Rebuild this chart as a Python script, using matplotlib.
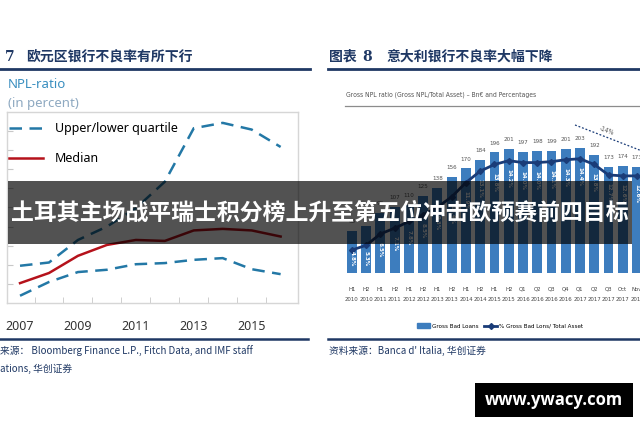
import matplotlib
matplotlib.use("Agg")
import matplotlib.pyplot as plt
from matplotlib.lines import Line2D
from matplotlib.patches import Rectangle, Patch
from matplotlib.font_manager import FontProperties

plt.rcParams['font.family'] = ['Noto Sans', 'Noto Sans CJK SC', 'DejaVu Sans']

# ---------------- data: left chart (Euro area NPL ratio, %) ----------------
years = [2007, 2008, 2009, 2010, 2011, 2012, 2013, 2014, 2015, 2016]
upper_q = [1.95, 2.12, 3.3, 4.0, 4.96, 6.35, 9.15, 9.43, 9.08, 8.17]
median = [1.04, 1.57, 2.47, 3.04, 3.30, 3.25, 3.80, 3.88, 3.80, 3.48]
lower_q = [0.38, 1.10, 1.62, 1.74, 2.03, 2.09, 2.26, 2.35, 1.77, 1.51]
year_labels = ['2007', '2009', '2011', '2013', '2015']

# ---------------- data: right chart (Italy gross NPL) ----------------
periods = ['H1', 'H2', 'H1', 'H2', 'H1', 'H2', 'H1', 'H2', 'H1', 'H2', 'H1', 'H2',
           'Q1', 'Q2', 'Q3', 'Q4', 'Q1', 'Q2', 'Q3', 'Oct', 'Nov']
period_years = ['2010', '2010', '2011', '2011', '2012', '2012', '2013', '2013', '2014',
                '2014', '2015', '2015', '2016', '2016', '2016', '2016', '2017', '2017',
                '2017', '2017', '2017']
bad_loans = [68, 77, 98, 107, 110, 125, 138, 156, 170, 184, 196, 201, 197, 198, 199,
             201, 203, 192, 173, 174, 173]
npl_pct = [4.8, 5.3, 6.5, 7.1, 7.8, 8.5, 9.3, 10.4, 11.9, 13.1, 13.8, 14.2, 14.0, 14.0,
           14.1, 14.3, 14.4, 13.8, 12.7, 12.6, 12.6]
trend_label = '-14%'

W, H = 640, 426
fig = plt.figure(figsize=(6.4, 4.26), dpi=100)
fig.patch.set_facecolor('white')


def fx(x):
    return x / W


def fy(y):
    return 1 - y / H


def add_axes_px(x0, y0, x1, y1):
    return fig.add_axes([fx(x0), fy(y1), (x1 - x0) / W, (y1 - y0) / H])


def hline(x0, x1, y, color, lw):
    fig.add_artist(Line2D([fx(x0), fx(x1)], [fy(y), fy(y)], transform=fig.transFigure,
                          color=color, lw=lw))


def narrow(size, weight='normal'):
    return FontProperties(family='DejaVu Sans', stretch='condensed', size=size, weight=weight)


NAVY = '#1f3864'
TEAL = '#2378a6'
RED = '#b5121b'
BAR = '#3d7dbe'
LINE = '#1a3c78'

# ---------------- headers ----------------
fig.text(fx(5), fy(57), '7', fontsize=10, fontweight='bold', color=NAVY,
         family=['DejaVu Serif'], va='center')
fig.text(fx(26), fy(57), '欧元区银行不良率有所下行', fontsize=10, fontweight='bold',
         color=NAVY, family=['Noto Sans CJK SC'], va='center')
fig.text(fx(329), fy(57), '图表', fontsize=10, fontweight='bold', color=NAVY,
         family=['Noto Sans CJK SC'], va='center')
fig.text(fx(362), fy(57), '8', fontsize=10, fontweight='bold', color=NAVY,
         family=['DejaVu Serif'], va='center')
fig.text(fx(386), fy(57), '意大利银行不良率大幅下降', fontsize=10, fontweight='bold',
         color=NAVY, family=['Noto Sans CJK SC'], va='center')
hline(0, 310, 69, NAVY, 2.0)
hline(328, 640, 69, NAVY, 2.0)
hline(0, 308, 339, NAVY, 1.8)
hline(328, 640, 339, NAVY, 1.8)

# ---------------- left chart ----------------
fig.text(fx(8), fy(85), 'NPL-ratio', fontsize=9.5, fontweight='bold', color='#3a8fc0',
         va='center')
fig.text(fx(8), fy(103), '(in percent)', fontsize=9.5, color='#8ea9c1', va='center')

axL = add_axes_px(7, 112, 298, 303)
axL.plot(years, upper_q, color=TEAL, lw=1.8, linestyle=(0, (5, 3)),
         label='Upper/lower quartile')
axL.plot(years, lower_q, color=TEAL, lw=1.8, linestyle=(0, (5, 3)))
axL.plot(years, median, color=RED, lw=1.8, label='Median')
axL.set_xlim(2006.55, 2016.6)
axL.set_ylim(0, 10)
axL.set_yticks(range(1, 10))
axL.set_yticklabels([])
axL.set_xticks([int(y) for y in year_labels])
axL.set_xticklabels(year_labels, fontsize=9, color='#333333')
axL.set_xticks([y + 0.5 for y in years[:-1]], minor=True)
axL.tick_params(axis='x', which='major', length=0, pad=12)
axL.tick_params(axis='x', which='minor', length=4, direction='in', color='#c8c8c8')
axL.tick_params(axis='y', length=4, direction='in', color='#c8c8c8')
for s in axL.spines.values():
    s.set_color('#d6d6d6')
    s.set_linewidth(1)
axL.legend(loc='upper left', bbox_to_anchor=(fx(4), fy(117)), bbox_transform=fig.transFigure,
           frameon=False, fontsize=9, handlelength=2.7, handletextpad=1.0,
           labelspacing=1.35, borderaxespad=0)

# ---------------- right chart ----------------
fig.text(fx(346), fy(95), 'Gross NPL ratio (Gross NPL/Total Asset) \u2013 Bn\u20ac and Percentages',
         color='#555555', va='center', fontproperties=narrow(4.9))
hline(345, 640, 106, '#8c8c8c', 0.9)

axR = add_axes_px(340, 120, 640, 273)
x = list(range(len(bad_loans)))
axR.bar(x, bad_loans, width=0.7, color=BAR, zorder=2)
axR.set_xlim(-0.84, 20.21)
axR.set_ylim(0, 248.8)
for s in axR.spines.values():
    s.set_visible(False)
axR.set_yticks([])
axR.set_xticks(x)
axR.set_xticklabels([f'{p}\n{y}' for p, y in zip(periods, period_years)],
                    color='#444444', linespacing=2.4, fontproperties=narrow(4.3))
axR.tick_params(axis='x', length=0, pad=10)
for xi, v in zip(x, bad_loans):
    axR.annotate(str(v), (xi, v), xytext=(0, 5), textcoords='offset points', ha='center',
                 va='bottom', color='#555555', fontproperties=narrow(4.5),
                 annotation_clip=False)

axR2 = axR.twinx()
axR2.set_ylim(2.38, 18.48)
axR2.set_yticks([])
for s in axR2.spines.values():
    s.set_visible(False)
axR2.plot(x, npl_pct, color=LINE, lw=2.0, marker='D', markersize=3.0, zorder=3)
for xi, v in zip(x, npl_pct):
    axR2.text(xi, max(v - 0.85, 4.7), f'{v:.1f}%', rotation=270, ha='center', va='top',
              color='white', fontproperties=narrow(4.4, 'bold'), clip_on=False)
# trend annotation (Q1 2017 peak to latest)
axR.plot([15.65, 20.4], [240.7, 198], color=LINE, lw=0.9, linestyle=(0, (1.5, 1.5)),
         clip_on=False)
axR.text(17.9, 231, trend_label, color='#555555', rotation=-20,
         ha='center', va='center', fontproperties=narrow(4.8))

handles = [Patch(color=BAR), Line2D([], [], color=LINE, lw=2, marker='D', markersize=3)]
axR.legend(handles, ['Gross Bad Loans', '% Gross Bad Lons/ Total Asset'], ncol=2,
           loc='center', bbox_to_anchor=(fx(500), fy(326)), bbox_transform=fig.transFigure,
           frameon=False, handlelength=2.0, handletextpad=0.3, handleheight=0.9,
           columnspacing=1.0, prop=narrow(4.5))

# ---------------- sources ----------------
fig.text(fx(0), fy(351), '来源： Bloomberg Finance L.P., Fitch Data, and IMF staff',
         fontsize=7, color=NAVY, style='italic', va='center',
         family=['Noto Sans CJK SC', 'DejaVu Sans'])
fig.text(fx(0), fy(369), 'ations, 华创证券', fontsize=7, color=NAVY, style='italic',
         va='center', family=['Noto Sans CJK SC', 'DejaVu Sans'])
fig.text(fx(329), fy(351), '资料来源：Banca d\' Italia, 华创证券', fontsize=7, color=NAVY,
         style='italic', va='center', family=['Noto Sans CJK SC', 'DejaVu Sans'])

# ---------------- overlay banner ----------------
fig.add_artist(Rectangle((fx(8), fy(244)), (632 - 8) / W, (244 - 181) / H,
                         transform=fig.transFigure, facecolor='black', alpha=0.68,
                         edgecolor='none', zorder=10))
fig.text(fx(320), fy(213), '土耳其主场战平瑞士积分榜上升至第五位冲击欧预赛前四目标',
         fontsize=16.5, fontweight='bold', color='white', ha='center', va='center',
         family=['Noto Sans CJK SC'], zorder=11)

# ---------------- watermark box ----------------
fig.add_artist(Rectangle((fx(475), fy(417)), (633 - 475) / W, (417 - 383) / H,
                         transform=fig.transFigure, facecolor='black', edgecolor='none',
                         zorder=10))
fig.text(fx(554), fy(400), 'www.ywacy.com', fontsize=12, fontweight='bold', color='white',
         ha='center', va='center', zorder=11, family=['Open Sans', 'DejaVu Sans'])

fig.savefig('out.png', dpi=100)
